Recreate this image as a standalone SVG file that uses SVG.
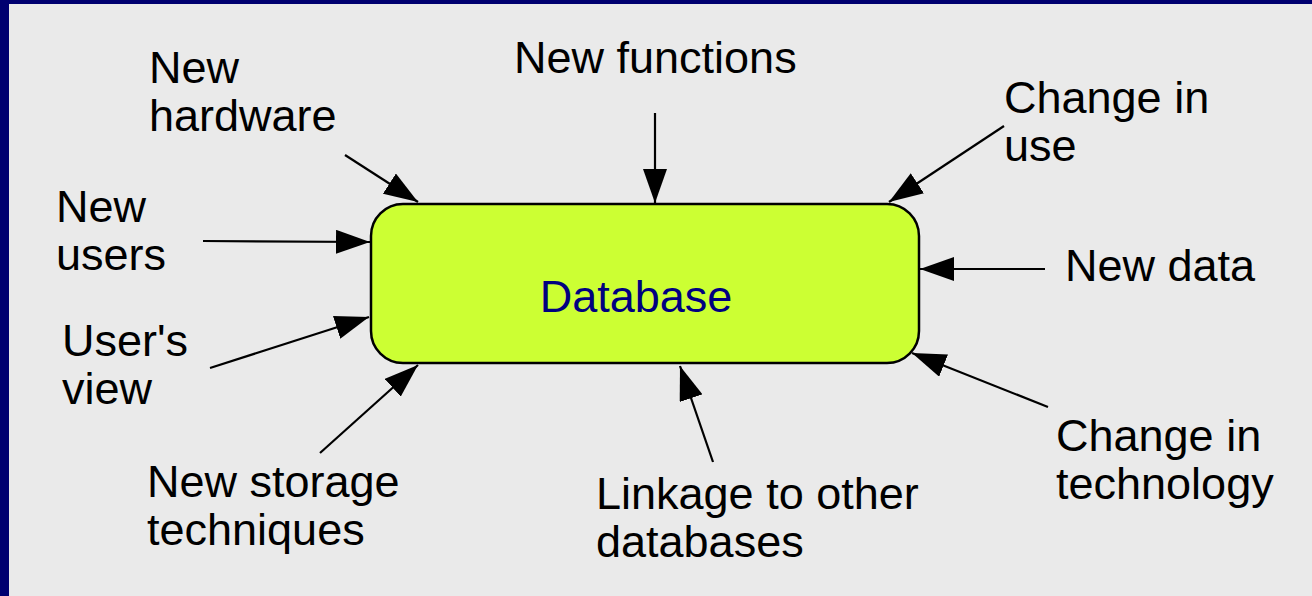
<svg xmlns="http://www.w3.org/2000/svg" width="1312" height="596" viewBox="0 0 1312 596">
  <style>
    .lbl { font-family: "Liberation Sans", Arial, sans-serif; font-size: 45px; fill: #000000; }
    .db { font-family: "Liberation Sans", Arial, sans-serif; font-size: 45px; fill: #000080; }
    .conn line { stroke: #000000; stroke-width: 2.2; marker-end: url(#head); }
  </style>
  <defs>
    <marker id="head" viewBox="0 0 34 24" refX="34" refY="12" markerWidth="34" markerHeight="24" markerUnits="userSpaceOnUse" orient="auto">
      <path d="M0,0 L34,12 L0,24 Z" fill="#000000"/>
    </marker>
  </defs>

  <!-- slide frame -->
  <rect x="0" y="0" width="1312" height="596" fill="#000070"/>
  <rect x="9" y="4" width="1303" height="592" fill="#eaeaea"/>

  <!-- central node -->
  <g id="database">
    <rect x="371" y="204" width="548" height="159" rx="32" ry="32" fill="#ccff33" stroke="#000000" stroke-width="2.5"/>
    <text class="db" x="636" y="312" text-anchor="middle">Database</text>
  </g>

  <!-- influences -->
  <g id="new-hardware">
    <text class="lbl" x="149" y="83">New</text>
    <text class="lbl" x="149" y="131">hardware</text>
  </g>
  <g id="new-functions">
    <text class="lbl" x="514" y="73">New functions</text>
  </g>
  <g id="change-in-use">
    <text class="lbl" x="1004" y="113">Change in</text>
    <text class="lbl" x="1004" y="161">use</text>
  </g>
  <g id="new-users">
    <text class="lbl" x="56" y="222">New</text>
    <text class="lbl" x="56" y="270">users</text>
  </g>
  <g id="new-data">
    <text class="lbl" x="1065" y="281">New data</text>
  </g>
  <g id="users-view">
    <text class="lbl" x="62" y="356">User's</text>
    <text class="lbl" x="62" y="404">view</text>
  </g>
  <g id="change-in-technology">
    <text class="lbl" x="1056" y="451">Change in</text>
    <text class="lbl" x="1056" y="499">technology</text>
  </g>
  <g id="new-storage">
    <text class="lbl" x="147" y="497">New storage</text>
    <text class="lbl" x="147" y="545">techniques</text>
  </g>
  <g id="linkage">
    <text class="lbl" x="596" y="509">Linkage to other</text>
    <text class="lbl" x="596" y="557">databases</text>
  </g>

  <!-- connectors -->
  <g id="connectors" class="conn">
    <line x1="345" y1="155" x2="418" y2="202"/>
    <line x1="655" y1="113" x2="655" y2="203"/>
    <line x1="1004" y1="126" x2="889" y2="202"/>
    <line x1="203" y1="241" x2="370" y2="242"/>
    <line x1="1045" y1="269" x2="920" y2="269"/>
    <line x1="210" y1="368" x2="369" y2="317"/>
    <line x1="1048" y1="407" x2="912" y2="353"/>
    <line x1="320" y1="453" x2="418" y2="365"/>
    <line x1="713" y1="462" x2="680" y2="366"/>
  </g>
</svg>
